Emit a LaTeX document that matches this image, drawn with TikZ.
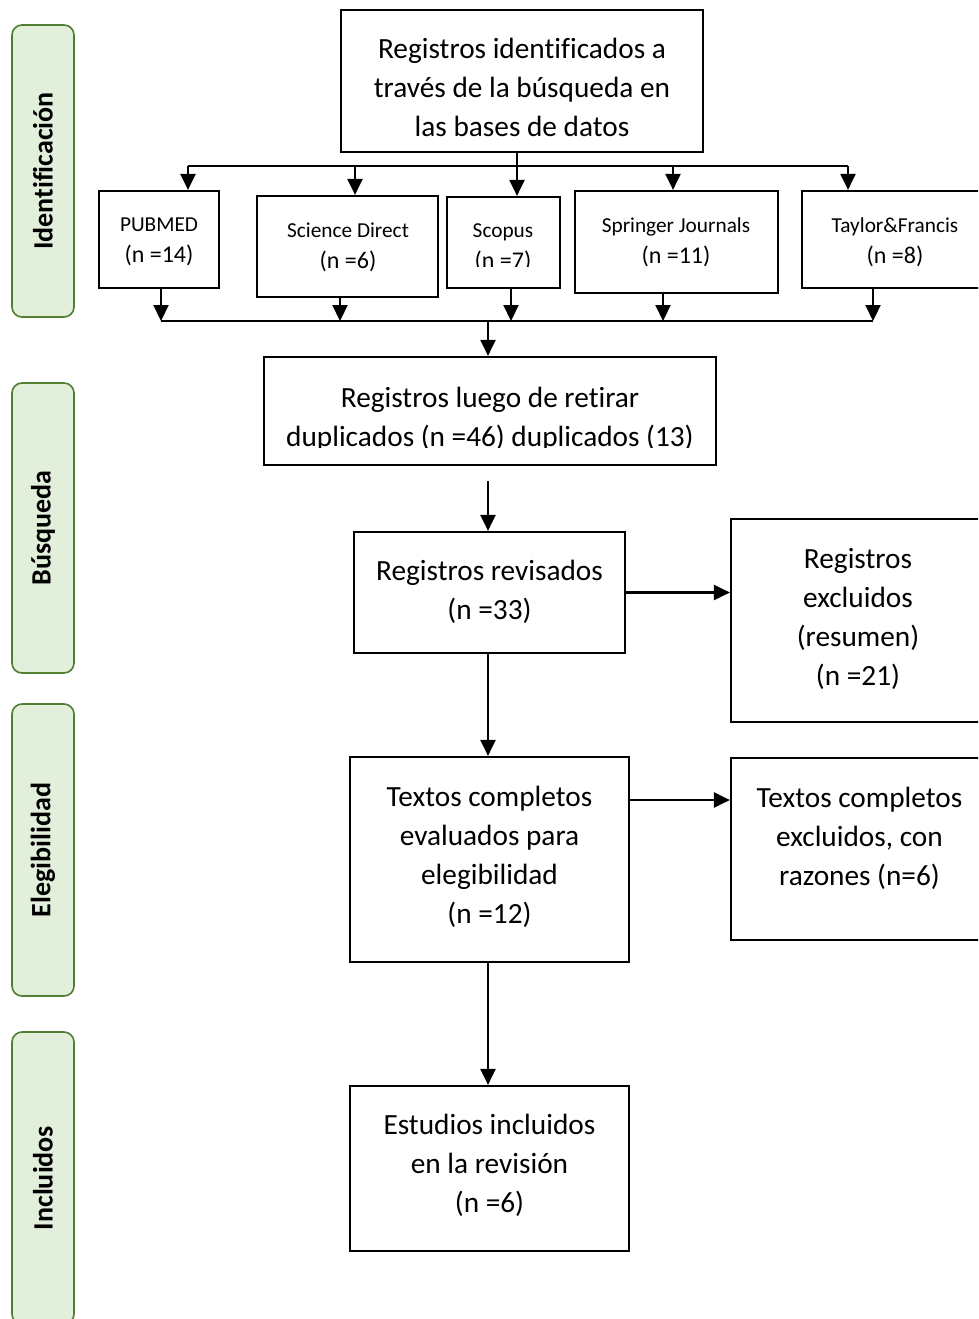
\documentclass[tikz,border=0pt]{standalone}
\usepackage{fontspec}
\setmainfont[Ligatures=NoCommon]{Carlito}
\usetikzlibrary{arrows.meta}
\definecolor{lblfill}{HTML}{E2EFDA}
\definecolor{lbldraw}{HTML}{507E32}
\newcommand{\nsz}{\fontsize{24}{31}\selectfont}
\begin{document}
\begin{tikzpicture}[x=1pt,y=-1pt,
  box/.style={draw=black, line width=2.2pt, inner sep=0pt},
  lbl/.style={draw=lbldraw, fill=lblfill, line width=1.6pt, rounded corners=10pt, inner sep=0pt,
    rotate=90, font=\bfseries\fontsize{28}{34}\selectfont},
  ln/.style={line width=2.2pt},
  arr/.style={line width=2.2pt, -{Triangle[length=16pt,width=15pt]}},
  big/.style={font=\fontsize{29.3}{39}\selectfont, align=center, inner sep=0pt},
  small/.style={font=\fontsize{21.3}{31}\selectfont, align=center, inner sep=0pt}
]
\clip (0,0) rectangle (978,1319);
\fill[white] (0,0) rectangle (978,1319);

% phase labels
\node[lbl, minimum width=292, minimum height=62] (L1) at (43,171) {Identificación};
\node[lbl, minimum width=290, minimum height=62] (L2) at (43,528) {Búsqueda};
\node[lbl, minimum width=292, minimum height=62] (L3) at (43,850) {Elegibilidad};
\node[lbl, minimum width=292, minimum height=62] (L4) at (43,1178) {Incluidos};

% boxes
\node[box, minimum width=362, minimum height=142] (t) at (522,81) {};
\node[box, minimum width=120, minimum height=97] (pub) at (159,239.5) {};
\node[box, minimum width=181, minimum height=101] (sd) at (347.5,246.5) {};
\node[box, minimum width=113, minimum height=91] (sc) at (503.5,242.5) {};
\node[box, minimum width=203, minimum height=102] (sp) at (676.5,242) {};
\node[box, minimum width=183, minimum height=97] (tf) at (893.5,239.5) {};
\node[box, minimum width=452, minimum height=108] (dup) at (490,411) {};
\node[box, minimum width=271, minimum height=121] (rev) at (489.5,592.5) {};
\node[box, minimum width=259, minimum height=203] (exc) at (860.5,620.5) {};
\node[box, minimum width=279, minimum height=205] (txt) at (489.5,859.5) {};
\node[box, minimum width=259, minimum height=182] (ex2) at (860.5,849) {};
\node[box, minimum width=279, minimum height=165] (inc) at (489.5,1168.5) {};

% texts
\node[big] (tT) at (522,87) {Registros identificados a\\través de la búsqueda en\\las bases de datos};
\node[small] (pubT) at (159,242) {PUBMED\\{\nsz (n =14)}};
\node[small] (sdT) at (348,247.5) {Science Direct\\{\nsz (n =6)}};
\begin{scope}
\clip (447,197) rectangle (560,266);
\node[small] (scT) at (503,247.5) {Scopus\\{\nsz (n =7)}};
\end{scope}
\node[small] (spT) at (676,242.5) {Springer Journals\\{\nsz (n =11)}};
\node[small] (tfT) at (895,242) {Taylor\&Francis\\{\nsz (n =8)}};
\begin{scope}
\clip (264,357) rectangle (716,447);
\node[big] (dupT) at (490,419) {Registros luego de retirar\\duplicados (n =46) duplicados (13)};
\end{scope}
\node[big] (revT) at (489.5,591.5) {Registros revisados\\(n =33)};
\node[big] (excT) at (858,618.5) {Registros\\excluidos\\(resumen)\\(n =21)};
\node[big] (txtT) at (489.5,856.5) {Textos completos\\evaluados para\\elegibilidad\\(n =12)};
\node[big] (ex2T) at (859.5,838.5) {Textos completos\\excluidos, con\\razones (n=6)};
\node[big] (incT) at (489.5,1165.5) {Estudios incluidos\\en la revisión\\(n =6)};

% top distribution
\coordinate (a1) at (188,166);
\coordinate (a2) at (355,166);
\coordinate (a3) at (517,166);
\coordinate (a4) at (673,166);
\coordinate (a5) at (848,166);
\draw[ln] (a1) -- (a5);
\draw[ln] (t.south -| a3) -- (a3);
\draw[arr] (a1) -- (a1 |- pub.north);
\draw[arr] (a2) -- (a2 |- sd.north);
\draw[arr] (a3) -- (a3 |- sc.north);
\draw[arr] (a4) -- (a4 |- sp.north);
\draw[arr] (a5) -- (a5 |- tf.north);

% bottom collection
\coordinate (b1) at (161,321);
\coordinate (b2) at (340,321);
\coordinate (b3) at (511,321);
\coordinate (b4) at (663,321);
\coordinate (b5) at (873,321);
\coordinate (m) at (488,321);
\draw[ln] (b1) -- (b5);
\draw[arr] (b1 |- pub.south) -- (b1);
\draw[arr] (b2 |- sd.south) -- (b2);
\draw[arr] (b3 |- sc.south) -- (b3);
\draw[arr] (b4 |- sp.south) -- (b4);
\draw[arr] (b5 |- tf.south) -- (b5);
\draw[arr] (m) -- (m |- dup.north);

% main flow
\draw[arr, shorten <=15pt] (m |- dup.south) -- (m |- rev.north);
\draw[arr] (rev.east) -- (rev.east -| exc.west);
\draw[arr] (m |- rev.south) -- (m |- txt.north);
\coordinate (y2) at (0,800);
\draw[arr] (txt.east |- y2) -- (ex2.west |- y2);
\draw[arr] (m |- txt.south) -- (m |- inc.north);
\end{tikzpicture}
\end{document}
